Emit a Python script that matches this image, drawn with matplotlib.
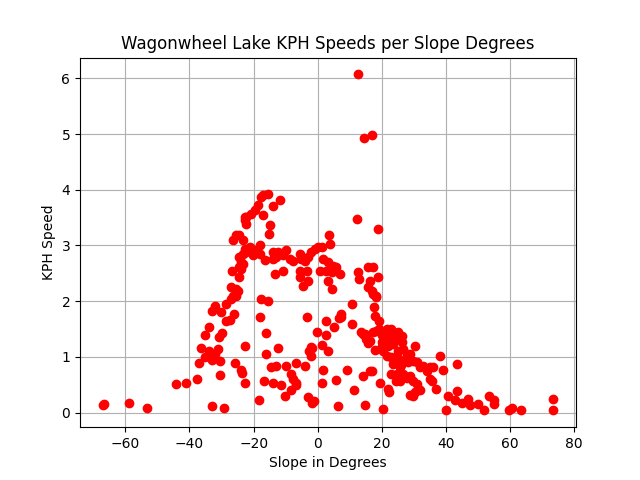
import matplotlib
matplotlib.use("Agg")
import matplotlib.pyplot as plt

slope_deg = [
    -67.1, -66.8, -58.75, -53.3, -44.3, -41.1, -37.5, -33.0, -29.3, -30.5,
    -25.9, -23.8, -23.5, -22.6, -22.6, -36.9, -36.5, -35.3, -34.0, -33.0,
    -32.0, -35.0, -34.0, -33.0, -32.0, -31.0, -30.6, -30.8, -29.9, -28.75,
    -30.1, -28.5, -27.5, -26.25, -27.0, -25.4, -24.9, -22.8, -25.4, -26.5,
    -23.3, -22.8, -23.3, -23.8, -24.4, -26.7, -24.6, -27.0, -25.4, -26.5,
    -17.1, -15.5, -17.6, -11.9, -14.0, -18.7, -19.7, -20.7, -22.3, -22.8,
    -22.3, -17.1, -15.0, -15.2, -24.4, -21.25, -18.1, -19.2, -18.1, -16.6,
    -20.2, -22.3, -24.4, -23.3, -23.8, -14.0, -12.4, -9.8, -10.8, -12.9,
    -14.0, -8.75, -7.7, -5.6, -5.1, -4.1, -3.0, -2.0, -0.9, 0.1,
    1.2, 3.5, 3.75, 12.1, -10.8, -13.4, -5.6, -5.6, -3.5, -4.6,
    -3.0, 1.7, 3.2, 4.8, 5.8, 0.6, 2.7, 4.3, 6.9, 3.2,
    4.3, 12.6, 12.9, 15.7, 16.25, 15.7, -17.6, -15.5, 12.6, 14.4,
    17.0, 18.8, 17.3, 18.8, 16.8, 18.1, -18.1, -16.25, -16.0, -12.4,
    -16.9, -14.0, -11.3, -18.3, -14.5, -13.1, -9.8, -8.2, -7.7, -6.9,
    -6.7, -8.2, -10.3, -6.7, -4.1, -3.0, -1.7, -1.25, -3.5, -2.2,
    -1.7, -2.7, -2.2, -0.2, 2.5, 2.7, 5.1, 6.7, 7.4, 7.1,
    10.8, 10.7, 1.2, 3.2, 1.7, 1.3, 5.8, 9.2, 11.4, 6.3,
    14.2, 14.7, 13.6, 14.7, 15.2, 15.7, 16.25, 17.3, 18.3, 17.5,
    17.8, 19.2, 14.2, 15.2, 16.25, 17.3, 18.3, 15.7, 17.8,
    21.5, 22.5, 23.0, 22.0, 20.9, 19.9, 23.5, 22.0, 20.4, 21.5,
    23.0, 24.6, 26.2, 26.2, 26.7, 27.7, 28.75, 30.3, 29.8, 30.8,
    31.9, 32.9, 34.0, 35.0, 36.0, 38.1, 39.2, 43.3,
    23.5, 25.6, 26.7, 25.6, 27.7, 28.75, 29.8, 30.8, 31.3, 31.9,
    30.3, 28.75, 29.8, 35.0, 35.5, 36.9, 40.7, 43.3, 42.8, 44.9,
    47.0, 47.5, 50.1, 16.8, 19.4, 22.0, 22.3, 20.2, 40.0, 24.6,
    23.0, 24.4, 51.9, 53.5, 55.0, 55.0, 59.5, 60.7, 63.4, 73.5,
    73.5, 24.0, 25.0, 27.0, 28.0, 26.0, 24.0, 22.0, 20.0, 19.0,
    23.0, 21.0, 25.0, 20.0,
]

kph_speed = [
    0.13, 0.16, 0.17, 0.08, 0.51, 0.53, 0.60, 0.11, 0.08, 0.68,
    0.89, 0.77, 0.72, 0.53, 1.20, 0.89, 1.16, 1.40, 1.53, 1.83,
    1.91, 1.00, 1.10, 0.95, 1.05, 1.15, 0.92, 1.35, 1.43, 1.95,
    1.80, 1.65, 1.66, 1.77, 2.04, 2.10, 2.19, 3.51, 3.18, 3.09,
    3.09, 2.94, 2.85, 2.70, 2.61, 2.55, 2.43, 2.25, 2.22, 2.10,
    3.90, 3.93, 3.87, 3.81, 3.70, 3.72, 3.63, 3.57, 3.51, 3.45,
    3.39, 3.54, 3.36, 3.21, 3.18, 2.97, 3.00, 2.91, 2.85, 2.74,
    2.82, 2.88, 2.79, 2.67, 2.58, 2.88, 2.88, 2.91, 2.82, 2.79,
    2.76, 2.76, 2.73, 2.85, 2.76, 2.73, 2.79, 2.88, 2.94, 2.97,
    2.97, 3.18, 3.03, 3.48, 2.55, 2.49, 2.55, 2.43, 2.55, 2.28,
    2.37, 2.76, 2.70, 2.64, 2.61, 2.55, 2.55, 2.52, 2.49, 2.37,
    2.22, 2.52, 2.40, 2.61, 2.37, 2.25, 2.04, 2.01, 6.07, 4.93,
    4.98, 3.30, 2.62, 2.44, 2.19, 2.10, 1.72, 1.43, 1.05, 1.16,
    0.56, 0.53, 0.50, 0.22, 0.81, 0.84, 0.83, 0.70, 0.60, 0.54,
    0.49, 0.40, 0.29, 0.89, 0.84, 0.28, 0.17, 0.20, 1.71, 1.17,
    1.16, 1.11, 1.02, 1.44, 1.65, 1.40, 1.53, 1.69, 1.77, 1.72,
    1.95, 1.59, 1.22, 1.11, 0.77, 0.53, 0.59, 0.77, 0.41, 0.11,
    0.66, 0.14, 1.44, 1.41, 1.32, 1.29, 0.75, 2.13, 2.08, 1.89,
    1.74, 1.65, 1.41, 1.35, 1.29, 1.44, 1.47, 1.25, 1.13,
    1.50, 1.47, 1.44, 1.38, 1.32, 1.26, 1.23, 1.20, 1.11, 1.02,
    0.99, 1.02, 1.38, 1.26, 1.14, 1.05, 1.05, 1.20, 0.93, 0.90,
    0.81, 0.84, 0.75, 0.81, 0.81, 1.02, 0.77, 0.87,
    0.87, 0.81, 0.69, 0.57, 0.63, 0.66, 0.57, 0.51, 0.43, 0.40,
    0.37, 0.31, 0.29, 0.60, 0.57, 0.43, 0.29, 0.38, 0.22, 0.17,
    0.25, 0.13, 0.16, 0.75, 0.53, 0.43, 0.37, 0.07, 0.04, 0.69,
    0.69, 0.57, 0.05, 0.29, 0.23, 0.16, 0.05, 0.08, 0.04, 0.25,
    0.05, 1.30, 1.10, 0.95, 0.90, 0.85, 0.95, 1.30, 1.40, 1.50,
    1.50, 1.25, 1.45, 1.20,
]

fig, ax = plt.subplots(figsize=(6.4, 4.8), dpi=100)
ax.plot(slope_deg, kph_speed, "o", color="red", linestyle="none")
ax.set_title("Wagonwheel Lake KPH Speeds per Slope Degrees")
ax.set_xlabel("Slope in Degrees")
ax.set_ylabel("KPH Speed")
ax.grid(True)
fig.savefig("out.png")
